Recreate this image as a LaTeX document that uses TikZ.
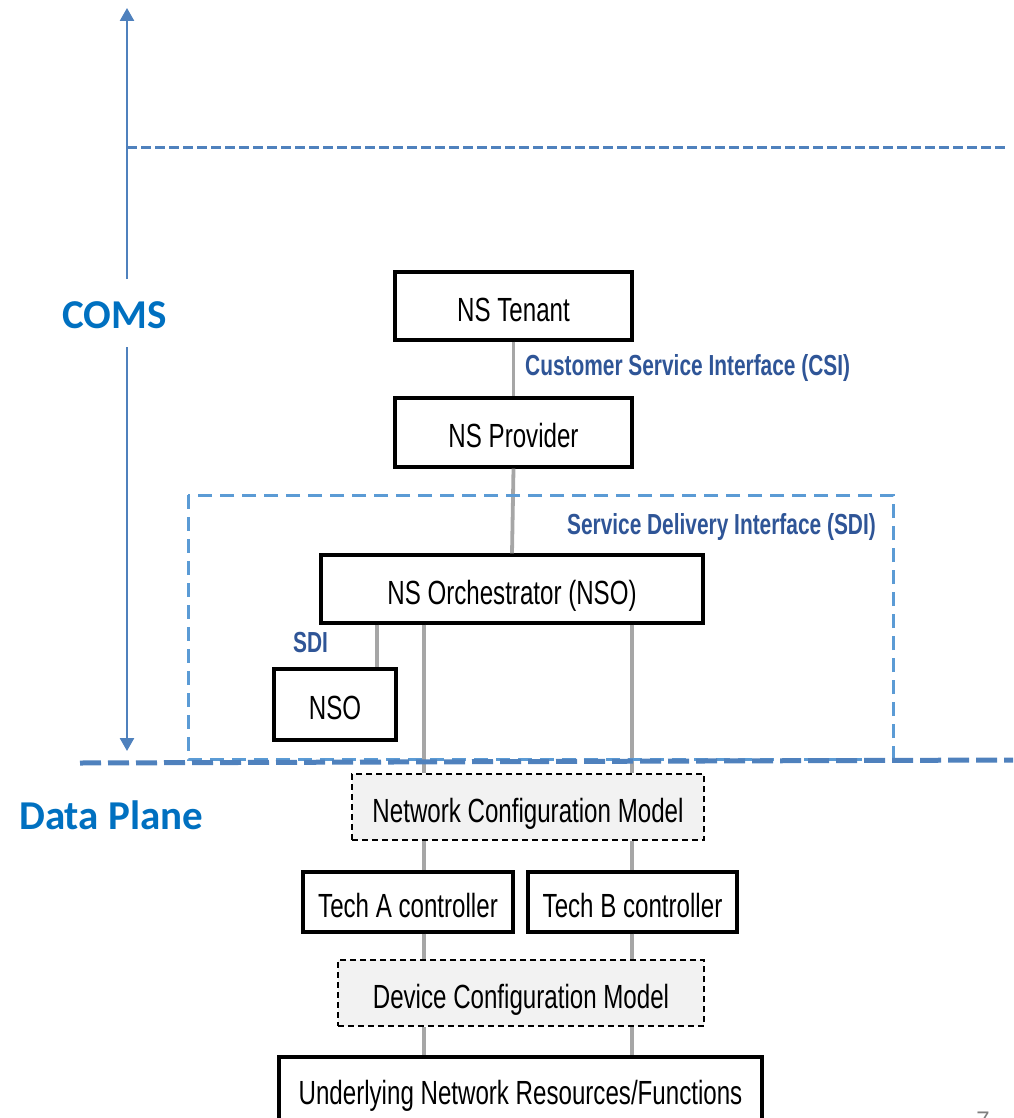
\documentclass[tikz,border=0pt]{standalone}
\usepackage{fontspec}
\setmainfont{Liberation Sans}
\newfontfamily\narrowfont[FakeStretch=0.72]{Liberation Sans}
\newfontfamily\calfont{Carlito}
\usetikzlibrary{arrows.meta,calc}
\definecolor{planeblue}{HTML}{0070C0}
\definecolor{lblblue}{HTML}{2F5597}
\definecolor{lineblue}{HTML}{4F81BD}
\definecolor{sdiblue}{HTML}{5B9BD5}
\definecolor{conngray}{HTML}{A6A6A6}
\definecolor{fillgray}{HTML}{F2F2F2}
\definecolor{pagegray}{HTML}{7F7F7F}
\begin{document}
\begin{tikzpicture}[x=1pt,y=-1pt,
  box/.style={draw=black, line width=3.2pt, fill=white, inner sep=0pt,
    font=\narrowfont\fontsize{33.5}{36}\selectfont, text height=30pt, text depth=0pt},
  model/.style={box, fill=fillgray, dash pattern=on 6pt off 4pt, line width=2.7pt},
  conn/.style={draw=conngray, line width=3.8pt},
  lbl/.style={text=lblblue, font=\narrowfont\bfseries\fontsize{29}{32}\selectfont, inner sep=0pt},
  plane/.style={text=planeblue, font=\calfont\bfseries\fontsize{41}{44}\selectfont, inner sep=0pt},
  arr/.style={draw=lineblue, line width=2.5pt, -{Triangle[width=14pt,length=13pt]}}
]
\useasboundingbox (0,0) rectangle (1013,1118);

% coordinates
\coordinate (atop) at (127,8);
\coordinate (agap1) at (127,279);
\coordinate (agap2) at (127,347);
\coordinate (abot) at (127,751);
\coordinate (topL) at (127,148);
\coordinate (topR) at (1005,148);
\coordinate (dpL) at (80,763);
\coordinate (dpR) at (1013,760);
\coordinate (xs) at (377,0);
\coordinate (xa) at (424,0);
\coordinate (xb) at (632,0);

% nodes
\node[box, minimum width=237pt, minimum height=68pt] (tenant) at (513.5,306) {NS Tenant};
\node[box, minimum width=237pt, minimum height=69pt] (provider) at (513.5,432.5) {NS Provider};
\node[box, minimum width=382pt, minimum height=68pt] (orch) at (512,589) {NS Orchestrator (NSO)};
\node[box, minimum width=122pt, minimum height=71pt] (nso) at (335,704.5) {NSO};
\node[model, minimum width=352pt, minimum height=66pt] (ncm) at (528,807) {Network Configuration Model};
\node[box, minimum width=210pt, minimum height=60pt] (techa) at (408,902) {Tech A controller};
\node[box, minimum width=209pt, minimum height=60pt] (techb) at (632.5,902) {Tech B controller};
\node[model, minimum width=366pt, minimum height=66pt] (dcm) at (521,993) {Device Configuration Model};
\node[box, minimum width=483pt, minimum height=82pt, text depth=18pt] (under) at (520.5,1098) {Underlying Network Resources/Functions};

% connectors
\draw[conn] (tenant.south) -- (provider.north);
\draw[conn] (provider.south) -- (orch.north);
\draw[conn] (orch.south -| xs) -- (nso.north -| xs);
\draw[conn] (orch.south -| xa) -- (ncm.north -| xa);
\draw[conn] (orch.south -| xb) -- (ncm.north -| xb);
\draw[conn] (ncm.south -| xa) -- (techa.north -| xa);
\draw[conn] (ncm.south -| xb) -- (techb.north -| xb);
\draw[conn] (techa.south -| xa) -- (dcm.north -| xa);
\draw[conn] (techb.south -| xb) -- (dcm.north -| xb);
\draw[conn] (dcm.south -| xa) -- (under.north -| xa);
\draw[conn] (dcm.south -| xb) -- (under.north -| xb);

% SDI dashed region
\draw[draw=sdiblue, line width=3pt, dash pattern=on 14pt off 8pt] (188,495) rectangle (893,759);

% blue lines
\draw[arr] (agap1) -- (atop);
\draw[arr] (agap2) -- (abot);
\draw[draw=lineblue, line width=3pt, dash pattern=on 10pt off 4pt] (topL) -- (topR);
\draw[draw=lineblue, line width=5pt, dash pattern=on 21pt off 7pt] (dpL) -- (dpR);

% labels
\node[plane] (coms) at (114.5,315) {COMS};
\node[plane, anchor=west] (dplane) at (19,815) {Data Plane};
\node[lbl, anchor=west] (csi) at (525,368) {Customer Service Interface (CSI)};
\node[lbl, anchor=east] (sdil) at (876,527) {Service Delivery Interface (SDI)};
\node[lbl] (sdis) at (310.5,643) {SDI};
\node[text=pagegray, inner sep=0pt, anchor=base, font=\fontsize{24}{26}\selectfont] (pg) at (983,1128) {7};
\end{tikzpicture}
\end{document}
